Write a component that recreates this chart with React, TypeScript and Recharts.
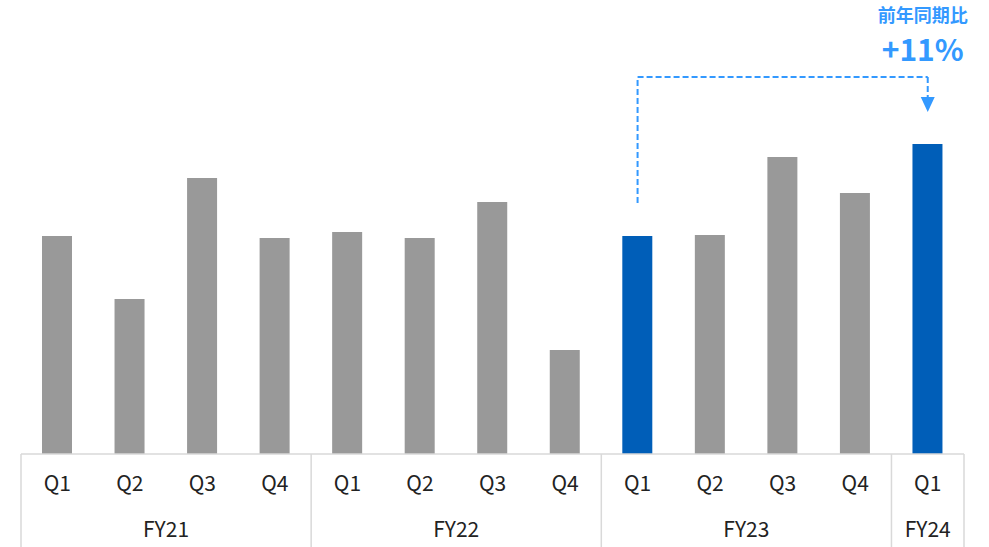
import React from "react";
import { BarChart, Bar, XAxis, YAxis, Cell, ReferenceLine, ReferenceDot } from "recharts";

const quarters = ["Q1", "Q2", "Q3", "Q4", "Q1", "Q2", "Q3", "Q4", "Q1", "Q2", "Q3", "Q4", "Q1"];
const fiscalYears = ["FY21", "FY21", "FY21", "FY21", "FY22", "FY22", "FY22", "FY22", "FY23", "FY23", "FY23", "FY23", "FY24"];
const values = [218, 155, 276, 216, 222, 216, 252, 104, 218, 219, 297, 261, 310];
const highlighted = [false, false, false, false, false, false, false, false, true, false, false, false, true];

const annotationTitle = "前年同期比";
const annotationValue = "+11%";
const connectorFrom = "FY23-Q1";
const connectorTo = "FY24-Q1";
const connectorBottom = 251;
const connectorTop = 377;
const arrowBase = 357;
const arrowTip = 342;
const titleLevel = 440;
const valueLevel = 406;

const GRAY = "#999999";
const BLUE = "#005EB8";
const ACCENT = "#3399FF";
const LINE = "#D9D9D9";
const TEXT = "#222222";
const FONT = "'Noto Sans CJK JP', 'Noto Sans', sans-serif";

const data = quarters.map((q, i) => ({
  id: `${fiscalYears[i]}-${q}`,
  quarter: q,
  fy: fiscalYears[i],
  value: values[i],
  highlight: highlighted[i],
}));

const QuarterTick = (props: any) => {
  const { x, y, payload, index } = props;
  const i = typeof index === "number" ? index : data.findIndex((d) => d.id === payload.value);
  const half = payload && typeof payload.offset === "number" && payload.offset > 0 ? payload.offset : 943 / 13 / 2;
  const d = data[i];
  const isGroupStart = i === 0 || data[i - 1].fy !== d.fy;
  const isLast = i === data.length - 1;
  let groupLen = 0;
  if (isGroupStart) {
    for (let k = i; k < data.length && data[k].fy === d.fy; k++) groupLen++;
  }
  const start = x - half;
  return (
    <g>
      <text x={x} y={y + 28} textAnchor="middle" dominantBaseline="central" fill={TEXT} fontSize={21} fontFamily={FONT}>
        {d.quarter}
      </text>
      {isGroupStart && (
        <>
          <line x1={start} x2={start} y1={y} y2={y + 100} stroke={LINE} strokeWidth={1.5} />
          <text
            x={start + groupLen * half}
            y={y + 74}
            textAnchor="middle"
            dominantBaseline="central"
            fill={TEXT}
            fontSize={21}
            fontFamily={FONT}
          >
            {d.fy}
          </text>
        </>
      )}
      {isLast && <line x1={x + half} x2={x + half} y1={y} y2={y + 100} stroke={LINE} strokeWidth={1.5} />}
    </g>
  );
};

const ArrowHead = (props: any) => {
  const { cx, cy } = props;
  return <path d={`M${cx - 7},${cy - 15} L${cx + 7},${cy - 15} L${cx},${cy} Z`} fill={ACCENT} />;
};

const TitleText = (props: any) => {
  const { cx, cy } = props;
  return (
    <text x={cx - 5} y={cy} textAnchor="middle" dominantBaseline="central" fill={ACCENT} fontSize={18} fontWeight={700} fontFamily={FONT}>
      {annotationTitle}
    </text>
  );
};

const ValueText = (props: any) => {
  const { cx, cy } = props;
  return (
    <text x={cx - 5} y={cy} textAnchor="middle" dominantBaseline="central" fill={ACCENT} fontSize={30} fontWeight={700} fontFamily={FONT}>
      {annotationValue}
    </text>
  );
};

export default function App() {
  return (
    <div style={{ position: "absolute", left: 0, top: 0, width: 989, height: 547, background: "#fff" }}>
      <BarChart width={989} height={547} data={data} margin={{ top: 4, right: 25, bottom: 0, left: 21 }} barCategoryGap="0%">
        <XAxis
          dataKey="id"
          interval={0}
          height={93}
          tickLine={false}
          tickSize={0}
          tickMargin={0}
          axisLine={{ stroke: LINE, strokeWidth: 1.5 }}
          tick={<QuarterTick />}
        />
        <YAxis hide domain={[0, 450]} width={0} />
        <Bar dataKey="value" barSize={30} isAnimationActive={false}>
          {data.map((d) => (
            <Cell key={d.id} fill={d.highlight ? BLUE : GRAY} />
          ))}
        </Bar>
        <ReferenceLine
          segment={[{ x: connectorFrom, y: connectorBottom }, { x: connectorFrom, y: connectorTop }]}
          stroke={ACCENT}
          strokeWidth={2}
          strokeDasharray="6 3"
          ifOverflow="visible"
        />
        <ReferenceLine
          segment={[{ x: connectorFrom, y: connectorTop }, { x: connectorTo, y: connectorTop }]}
          stroke={ACCENT}
          strokeWidth={2}
          strokeDasharray="6 3"
          ifOverflow="visible"
        />
        <ReferenceLine
          segment={[{ x: connectorTo, y: connectorTop }, { x: connectorTo, y: arrowBase }]}
          stroke={ACCENT}
          strokeWidth={2}
          strokeDasharray="6 3"
          ifOverflow="visible"
        />
        <ReferenceDot x={connectorTo} y={arrowTip} r={0} shape={<ArrowHead />} ifOverflow="visible" />
        <ReferenceDot x={connectorTo} y={titleLevel} r={0} shape={<TitleText />} ifOverflow="visible" />
        <ReferenceDot x={connectorTo} y={valueLevel} r={0} shape={<ValueText />} ifOverflow="visible" />
      </BarChart>
    </div>
  );
}
